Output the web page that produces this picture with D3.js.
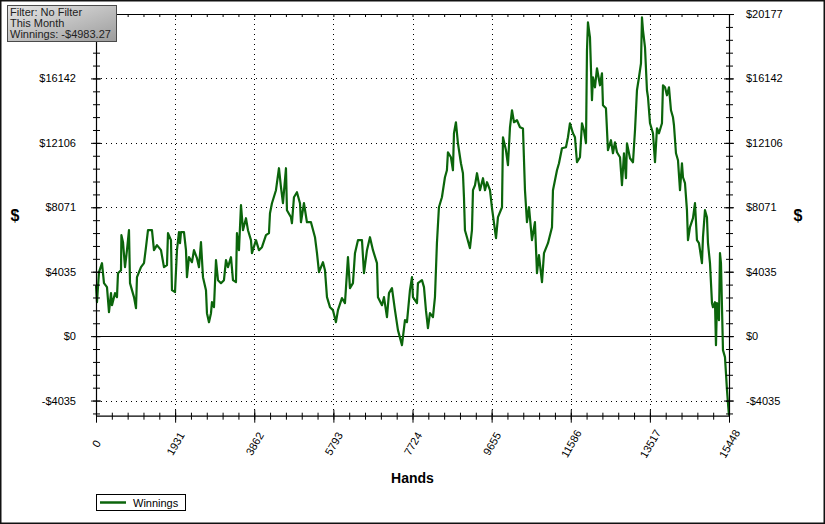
<!DOCTYPE html>
<html>
<head>
<meta charset="utf-8">
<script src="https://cdn.jsdelivr.net/npm/d3@7"></script>
<style>
  html, body { margin: 0; padding: 0; background: #ffffff; }
  svg { display: block; font-family: "Liberation Sans", Arial, sans-serif; }
</style>
</head>
<body>
<svg id="chart" width="825" height="524"></svg>
<script>
// ---------------- DATA ----------------
const hands = [0,24,73,146,195,268,317,366,390,464,512,537,610,620,659,708,756,805,830,878,927,976,1000,1098,1171,1220,1269,1366,1415,1488,1586,1659,1732,1757,1830,1854,1928,1976,2025,2050,2074,2147,2196,2220,2269,2342,2391,2464,2513,2562,2611,2684,2708,2757,2806,2830,2879,2928,2977,3050,3123,3172,3221,3294,3343,3416,3440,3489,3538,3587,3660,3709,3782,3806,3904,3977,4050,4148,4221,4246,4294,4392,4465,4514,4563,4636,4660,4758,4782,4831,4904,4978,5002,5075,5148,5246,5344,5393,5442,5539,5588,5637,5710,5783,5856,5905,6002,6076,6149,6198,6271,6320,6393,6491,6540,6613,6686,6759,6857,6881,6979,7028,7101,7150,7223,7296,7369,7467,7540,7589,7662,7711,7735,7833,7857,7955,8004,8052,8101,8150,8223,8272,8320,8369,8442,8516,8564,8589,8662,8711,8736,8784,8833,8906,8955,8980,9004,9053,9126,9175,9200,9249,9298,9371,9444,9493,9542,9615,9664,9713,9762,9810,9908,9932,10005,10054,10103,10152,10201,10274,10347,10420,10469,10518,10567,10640,10712,10762,10810,10884,10933,11030,11128,11152,11250,11299,11372,11469,11518,11567,11640,11689,11738,11811,11860,11909,11958,11982,12006,12055,12104,12128,12177,12226,12299,12348,12372,12445,12494,12567,12616,12665,12714,12788,12836,12885,12934,12958,13032,13105,13154,13202,13251,13300,13324,13349,13398,13446,13471,13520,13593,13642,13690,13739,13812,13837,13886,13934,13983,14032,14081,14105,14154,14203,14252,14300,14325,14374,14422,14447,14496,14569,14618,14666,14715,14788,14813,14862,14910,14935,14984,15033,15057,15106,15130,15154,15203,15228,15252,15301,15350,15399,15423,15448];
const winnings = [3193,2128,4006,4570,3318,3067,1502,2692,1941,2692,2441,3944,4132,6323,5884,4319,5384,6636,3318,2880,2441,1753,3693,4319,4570,5571,6636,6636,5384,5697,5384,4319,4445,6448,6010,2880,2754,5384,6510,5822,6510,6510,5384,3693,4945,4632,5384,4883,4319,5884,3693,2880,1440,876,1440,2128,1815,4758,3506,3318,3506,4758,4319,4945,3506,3380,6448,5384,8201,6636,7387,6636,6010,5196,6010,5384,5571,6323,6448,7700,8326,9140,10517,9327,8326,10517,7888,7449,7074,8701,9014,8326,7136,8326,7136,7136,6197,5196,4006,4632,4132,2441,1815,1628,876,1628,2379,2066,4945,3005,3318,5196,6010,6010,3944,5384,6197,5384,4570,2441,1941,2441,1189,2692,3005,1628,376,-563,1002,876,2880,3693,2441,2066,3318,3506,3067,1628,501,1440,1189,2441,5822,8075,8701,9953,10392,11518,11205,10392,12708,13396,12082,10830,10204,8701,6636,6197,5509,6636,9140,9453,10204,9140,9891,9140,9640,9140,8013,7074,6135,7449,8075,12457,11644,10705,13083,14148,13396,13522,13083,13000,9140,7136,8075,6010,7136,3944,5071,3380,5196,5822,6823,9140,10392,10830,11769,11831,12457,13334,12708,12457,10892,11205,13334,12896,12082,17904,19656,18717,14774,16213,15587,16777,15713,16464,14461,14273,11644,12270,11456,12144,11518,11205,9453,11456,9891,12082,11143,10892,12896,15400,16213,17090,19969,19156,18091,15400,14961,13334,12708,10892,13021,12708,13334,15713,15587,15087,15587,14148,13709,13209,11456,11018,9140,10830,9953,9578,7888,6010,6823,7387,8326,6010,5822,4570,6197,7888,7449,5822,4570,2066,1815,2128,-563,2066,1002,5196,4570,-876,-1315,-3380,-4194,-4983.27];
const xTickValues = [0,1931,3862,5793,7724,9655,11586,13517,15448];
const yTickValues = [-4035,0,4035,8071,12106,16142,20177];
const infoLines = ["Filter: No Filter", "This Month", "Winnings: -$4983.27"];
const seriesName = "Winnings";
const xTitle = "Hands";
const yTitle = "$";

// ---------------- LAYOUT ----------------
const W = 825, H = 524;
const plot = {left: 96, right: 729, top: 14, bottom: 415.7};
const lineColor = "#0b650b";
const svg = d3.select("#chart");

const x = d3.scaleLinear().domain([0, 15448]).range([plot.left, plot.right]);
const y = d3.scaleLinear().domain([-4983.27, 20177]).range([plot.bottom, plot.top]);
const fmt = v => (v < 0 ? "-$" + Math.abs(v) : "$" + v);

const xMinor = d3.range(0, 41).map(i => i * 1931 / 5).filter(v => v <= 15448.5);
const yMinor = d3.range(-6, 26).map(i => i * 4035 / 5).filter(v => v >= -4983.27 && v <= 20177.5);

// background
svg.append("rect").attr("x", 0).attr("y", 0).attr("width", W).attr("height", H).attr("fill", "#ffffff");

// gridlines (dotted)
const grid = svg.append("g").attr("stroke", "#000").attr("stroke-width", 1).attr("stroke-dasharray", "1,4");
grid.selectAll("line.vx").data(xTickValues.slice(1, -1)).join("line")
  .attr("x1", d => Math.round(x(d)) + 0.5).attr("x2", d => Math.round(x(d)) + 0.5)
  .attr("y1", plot.top).attr("y2", plot.bottom);
grid.selectAll("line.hy").data(yTickValues.filter(v => v !== 0 && v !== 20177)).join("line")
  .attr("y1", d => Math.round(y(d)) + 0.5).attr("y2", d => Math.round(y(d)) + 0.5)
  .attr("x1", plot.left).attr("x2", plot.right);

// zero line
svg.append("line").attr("x1", plot.left).attr("x2", plot.right)
  .attr("y1", Math.round(y(0)) + 0.5).attr("y2", Math.round(y(0)) + 0.5)
  .attr("stroke", "#000").attr("stroke-width", 1);

// series line
const data = hands.map((h, i) => [h, winnings[i]]);
svg.append("path").datum(data)
  .attr("fill", "none").attr("stroke", lineColor).attr("stroke-width", 2.2)
  .attr("stroke-linejoin", "round")
  .attr("d", d3.line().x(d => x(d[0])).y(d => y(d[1])));

// axes helpers
function styleAxis(g) {
  g.selectAll(".domain").attr("stroke", "#000").attr("stroke-width", 1.2);
  g.selectAll(".tick line").attr("stroke", "#000").attr("stroke-width", 1);
  g.selectAll("text").attr("fill", "#000").attr("font-size", 11)
    .attr("font-family", "'Liberation Sans', Arial, sans-serif");
}

// left axis (top label hidden behind the info box in the original)
const gL = svg.append("g").attr("transform", `translate(${plot.left},0)`)
  .call(d3.axisLeft(y).tickValues(yTickValues).tickSizeOuter(0).tickSizeInner(5).tickPadding(15)
    .tickFormat(v => v === 20177 ? "" : fmt(v)));
gL.selectAll(".tick line").attr("x1", -5).attr("x2", 5);
styleAxis(gL);
const gLm = svg.append("g").attr("transform", `translate(${plot.left},0)`)
  .call(d3.axisLeft(y).tickValues(yMinor).tickSizeOuter(0).tickSizeInner(4).tickFormat(""));
gLm.selectAll(".tick line").attr("x1", -3).attr("x2", 4);
gLm.select(".domain").remove();
styleAxis(gLm);

// right axis
const gR = svg.append("g").attr("transform", `translate(${plot.right},0)`)
  .call(d3.axisRight(y).tickValues(yTickValues).tickSizeOuter(0).tickSizeInner(5).tickPadding(12).tickFormat(fmt));
gR.selectAll(".tick line").attr("x1", -5).attr("x2", 5);
styleAxis(gR);
const gRm = svg.append("g").attr("transform", `translate(${plot.right},0)`)
  .call(d3.axisRight(y).tickValues(yMinor).tickSizeOuter(0).tickSizeInner(4).tickFormat(""));
gRm.selectAll(".tick line").attr("x1", -3).attr("x2", 4);
gRm.select(".domain").remove();
styleAxis(gRm);

// bottom axis
const gB = svg.append("g").attr("transform", `translate(0,${plot.bottom})`)
  .call(d3.axisBottom(x).tickValues(xTickValues).tickSizeOuter(0).tickSizeInner(6).tickFormat(d => d));
gB.selectAll(".tick line").attr("y1", -6).attr("y2", 7);
styleAxis(gB);
gB.selectAll(".tick text")
  .attr("y", 0).attr("dy", "0.35em")
  .attr("text-anchor", "middle")
  .attr("transform", "translate(0,28) rotate(-60)");
const gBm = svg.append("g").attr("transform", `translate(0,${plot.bottom})`)
  .call(d3.axisBottom(x).tickValues(xMinor).tickSizeOuter(0).tickSizeInner(4).tickFormat(""));
gBm.selectAll(".tick line").attr("y1", -3).attr("y2", 4);
gBm.select(".domain").remove();
styleAxis(gBm);

// top axis (inward ticks)
const gT = svg.append("g").attr("transform", `translate(0,${plot.top})`)
  .call(d3.axisTop(x).tickValues(xMinor).tickSizeOuter(0).tickSizeInner(-3).tickFormat(""));
styleAxis(gT);

// axis titles
svg.append("text").attr("x", (plot.left + plot.right) / 2).attr("y", 483)
  .attr("text-anchor", "middle").attr("font-size", 14).attr("font-weight", "bold")
  .attr("fill", "#000").text(xTitle);
svg.append("text").attr("x", 15).attr("y", 221)
  .attr("text-anchor", "middle").attr("font-size", 16).attr("font-weight", "bold")
  .attr("fill", "#000").text(yTitle);
svg.append("text").attr("x", 798).attr("y", 221)
  .attr("text-anchor", "middle").attr("font-size", 16).attr("font-weight", "bold")
  .attr("fill", "#000").text(yTitle);

// legend
const lg = svg.append("g");
lg.append("rect").attr("x", 96.5).attr("y", 494.5).attr("width", 89).attr("height", 16)
  .attr("fill", "#fff").attr("stroke", "#000").attr("stroke-width", 1);
lg.append("line").attr("x1", 100).attr("x2", 126).attr("y1", 502.5).attr("y2", 502.5)
  .attr("stroke", lineColor).attr("stroke-width", 2.5);
lg.append("text").attr("x", 133).attr("y", 506.5).attr("font-size", 11).attr("fill", "#000").text(seriesName);

// info box
const defs = svg.append("defs");
const grad = defs.append("linearGradient").attr("id", "infoGrad")
  .attr("x1", "0%").attr("y1", "0%").attr("x2", "100%").attr("y2", "100%");
grad.append("stop").attr("offset", "0%").attr("stop-color", "#e6e6e6");
grad.append("stop").attr("offset", "100%").attr("stop-color", "#9c9c9c");
svg.append("rect").attr("x", 7.5).attr("y", 5.5).attr("width", 109).attr("height", 36)
  .attr("fill", "url(#infoGrad)").attr("stroke", "#4a4a4a").attr("stroke-width", 1);
svg.append("g").selectAll("text").data(infoLines).join("text")
  .attr("x", 10).attr("y", (d, i) => 16 + i * 11)
  .attr("font-size", 11).attr("fill", "#222").text(d => d);

// outer border
svg.append("rect").attr("x", 0.75).attr("y", 0.75).attr("width", W - 1.5).attr("height", H - 1.5)
  .attr("fill", "none").attr("stroke", "#111").attr("stroke-width", 1.5);
</script>
</body>
</html>
